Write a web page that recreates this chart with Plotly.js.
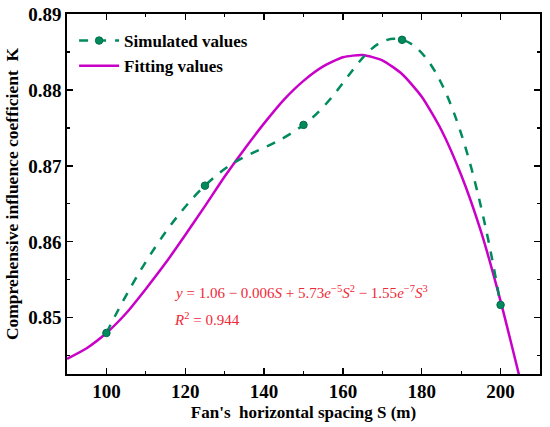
<!DOCTYPE html>
<html>
<head>
<meta charset="utf-8">
<script src="https://cdn.plot.ly/plotly-3.0.1.min.js"></script>
<style>html,body{margin:0;padding:0;background:#fff;}#chart{width:550px;height:427px;}</style>
</head>
<body>
<div id="chart"></div>
<script>
// Simulated values
const simS = [100, 125, 150, 175, 200];
const simK = [0.8480, 0.8674, 0.8754, 0.8866, 0.8517];
// Fitting curve (values every 5 m)
const fitS = [90, 95, 100, 105, 110, 115, 120, 125, 130, 135, 140, 145, 150, 155, 160, 165, 170, 175, 180, 185, 190, 195, 200, 205];
const fitK = [0.8446, 0.8460, 0.8480, 0.8506, 0.8538, 0.8572, 0.8609, 0.8647, 0.8686, 0.8722, 0.8756, 0.8787, 0.8812, 0.8831, 0.8843, 0.8846, 0.8839, 0.8821, 0.8791, 0.8747, 0.8688, 0.8614, 0.8522, 0.8418];
const xTicks = [100, 120, 140, 160, 180, 200];
const yTicks = [0.85, 0.86, 0.87, 0.88, 0.89];

const green = '#008a5e';
const magenta = '#c800c8';
const red = '#f02838';
const font = 'Liberation Serif, Times New Roman, serif';

const traces = [
  {
    x: fitS, y: fitK, name: 'Fitting values', type: 'scatter', mode: 'lines', legendrank: 2,
    line: {color: magenta, width: 2.5, shape: 'spline', smoothing: 0.6}
  },
  {
    x: simS, y: simK, name: 'Simulated values', type: 'scatter', mode: 'lines+markers', legendrank: 1,
    line: {color: green, width: 2.5, dash: 'dash', shape: 'spline', smoothing: 1.3},
    marker: {color: green, size: 7.5, line: {color: '#006e4a', width: 1}}
  }
];

const axisCommon = {
  showgrid: false, zeroline: false, showline: true, linecolor: '#000', linewidth: 1.6,
  mirror: 'allticks', ticks: 'inside', ticklen: 6, tickwidth: 1.2, tickcolor: '#000',
  tickfont: {family: font, size: 19, color: '#000', weight: 'bold'}
};

const layout = {
  width: 550, height: 427,
  margin: {l: 67, r: 10, t: 14, b: 53},
  paper_bgcolor: '#fff', plot_bgcolor: '#fff',
  showlegend: true,
  legend: {x: 0.015, y: 0.975, xanchor: 'left', yanchor: 'top', bgcolor: 'rgba(0,0,0,0)',
    font: {family: font, size: 17, color: '#000', weight: 'bold'}, tracegroupgap: 0, itemwidth: 40},
  xaxis: Object.assign({}, axisCommon, {
    range: [90, 210], tickvals: xTicks, ticktext: xTicks.map(String),
    minor: {ticks: 'inside', ticklen: 3, dtick: 10, tick0: 90, tickcolor: '#000', tickwidth: 1.2},
    title: {text: "Fan's\u00a0 horizontal spacing S (m)", standoff: 4,
      font: {family: font, size: 17, color: '#000', weight: 'bold'}}
  }),
  yaxis: Object.assign({}, axisCommon, {
    range: [0.8426, 0.89], tickvals: yTicks, ticktext: yTicks.map(v => v.toFixed(2)),
    minor: {ticks: 'inside', ticklen: 3, dtick: 0.005, tick0: 0.84, tickcolor: '#000', tickwidth: 1.2},
    title: {text: 'Comprehensive influence coefficient\u00a0 K', standoff: 5,
      font: {family: font, size: 17.5, color: '#000', weight: 'bold'}}
  }),
  annotations: [
    {xref: 'paper', yref: 'paper', x: 0.222, y: 0.228, xanchor: 'left', yanchor: 'middle', showarrow: false,
      text: '<i>y</i> = 1.06 − 0.006<i>S</i> + 5.73<i>e</i><sup>−5</sup><i>S</i><sup>2</sup> − 1.55<i>e</i><sup>−7</sup><i>S</i><sup>3</sup>',
      font: {family: font, size: 15, color: red}},
    {xref: 'paper', yref: 'paper', x: 0.222, y: 0.152, xanchor: 'left', yanchor: 'middle', showarrow: false,
      text: '<i>R</i><sup>2</sup> = 0.944',
      font: {family: font, size: 15, color: red}}
  ]
};

Plotly.newPlot('chart', traces, layout, {displayModeBar: false, staticPlot: true});
</script>
</body>
</html>
